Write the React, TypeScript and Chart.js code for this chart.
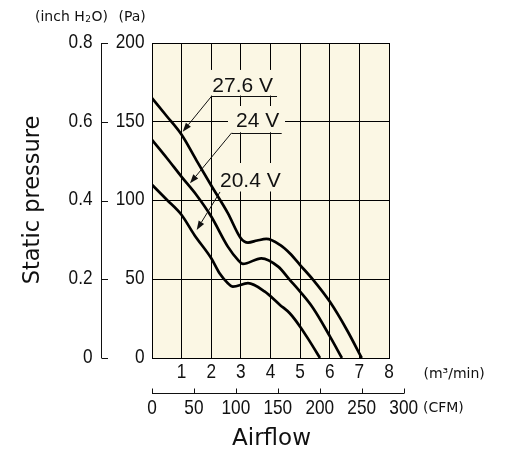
import React, { useEffect, useRef } from "react";
import { Chart, registerables } from "chart.js";

Chart.register(...registerables);

// ---- Data (airflow in m3/min, static pressure in Pa) ----
const flow276 = [0, 0.5, 1, 1.5, 2, 2.56, 3, 3.24, 3.55, 3.86, 4.32, 4.65, 5, 5.44, 6, 6.58, 7.08];
const pres276 = [165, 153.5, 141.7, 125.5, 109.5, 92, 76, 73.3, 74.6, 75.6, 71.8, 66.5, 59, 49.6, 35.8, 17.8, 0];

const flow24 = [0, 0.5, 1, 1.5, 2, 2.56, 2.9, 3.07, 3.69, 4.26, 4.65, 5, 5.44, 6.01, 6.41];
const pres24 = [138.5, 127, 115, 103.5, 89.8, 70.7, 62.3, 59.7, 63.3, 58, 49.6, 42.1, 31.6, 13.6, 0];

const flow204 = [0, 0.5, 1, 1.43, 2, 2.28, 2.56, 2.73, 3.24, 3.81, 4.32, 4.65, 5, 5.33, 5.67];
const pres204 = [110, 100.5, 90.8, 78.1, 63.3, 53.8, 47.5, 45.3, 47.5, 42.1, 33.7, 28.4, 19.9, 10.4, 0];

// ---- Tick labels ----
const flowTicks = [1, 2, 3, 4, 5, 6, 7, 8];
const cfmTicks = [0, 50, 100, 150, 200, 250, 300];
const paTicks = [0, 50, 100, 150, 200];
const inchTickLabels = ["0", "0.2", "0.4", "0.6", "0.8"];
const CFM_PER_M3MIN = 35.315;

// ---- Curve annotations (data coordinates) ----
const noteTexts = ["27.6 V", "24 V", "20.4 V"];
const noteTextX = [2.035, 2.835, 2.295];
const noteTextY = [169.1, 146.5, 108.8];
const noteLineX0 = [2.015, 2.69, null];
const noteLineX1 = [4.22, 4.378, null];
const noteLineY = [166.3, 143.0, null];
const noteArrowFromX = [2.015, 2.69, 2.295];
const noteArrowFromY = [166.3, 143.0, 105.4];
const noteArrowToX = [1.036, 1.283, 1.509];
const noteArrowToY = [143.7, 110.9, 81.3];
const noteBoxX0 = [1.857, 2.565, 2.16];
const noteBoxX1 = [4.355, 4.49, 4.456];
const noteBoxY0 = [182.9, 160, 123.8];
const noteBoxY1 = [166.3, 143.0, 105.4];

const CREAM = "#FBF7E4";
const INK = "#111111";
const TICK_FONT = '21px "Liberation Sans", Arial, sans-serif';
const TICK_SX = 0.82;
const UNIT_FONT = '14px "DejaVu Sans", sans-serif';

function toPoints(xs: number[], ys: number[]) {
  return xs.map((x, i) => ({ x, y: ys[i] }));
}

function drawText(
  ctx: CanvasRenderingContext2D,
  text: string,
  x: number,
  y: number,
  font: string,
  align: CanvasTextAlign,
  baseline: CanvasTextBaseline,
  sx = 1
) {
  ctx.save();
  ctx.translate(x, y);
  ctx.scale(sx, 1);
  ctx.font = font;
  ctx.textAlign = align;
  ctx.textBaseline = baseline;
  ctx.fillStyle = INK;
  ctx.fillText(text, 0, 0);
  ctx.restore();
}

const decorPlugin = {
  id: "decor",
  beforeDraw(chart: any) {
    const { ctx, chartArea } = chart;
    ctx.save();
    ctx.fillStyle = CREAM;
    ctx.fillRect(chartArea.left, chartArea.top, chartArea.right - chartArea.left, chartArea.bottom - chartArea.top);
    ctx.restore();
  },
  beforeDatasetsDraw(chart: any) {
    const { ctx } = chart;
    const xs = chart.scales.x;
    const ys = chart.scales.y;
    ctx.save();
    ctx.fillStyle = CREAM;
    for (let i = 0; i < noteTexts.length; i++) {
      const x0 = xs.getPixelForValue(noteBoxX0[i]);
      const x1 = xs.getPixelForValue(noteBoxX1[i]);
      const y0 = ys.getPixelForValue(noteBoxY0[i]);
      const y1 = ys.getPixelForValue(noteBoxY1[i]);
      ctx.fillRect(x0, y0, x1 - x0, y1 - y0 - 0.5);
    }
    ctx.restore();
  },
  afterDatasetsDraw(chart: any) {
    const { ctx, chartArea } = chart;
    const xs = chart.scales.x;
    const ys = chart.scales.y;

    // annotations
    for (let i = 0; i < noteTexts.length; i++) {
      drawText(ctx, noteTexts[i], xs.getPixelForValue(noteTextX[i]), ys.getPixelForValue(noteTextY[i]),
        '21px "Liberation Sans", Arial, sans-serif', "left", "alphabetic");
      ctx.save();
      ctx.strokeStyle = INK;
      ctx.fillStyle = INK;
      ctx.lineWidth = 1;
      if (noteLineY[i] !== null) {
        const yy = Math.round(ys.getPixelForValue(noteLineY[i] as number)) + 0.5;
        ctx.beginPath();
        ctx.moveTo(xs.getPixelForValue(noteLineX0[i] as number), yy);
        ctx.lineTo(xs.getPixelForValue(noteLineX1[i] as number), yy);
        ctx.stroke();
      }
      const ax0 = xs.getPixelForValue(noteArrowFromX[i]);
      const ay0 = ys.getPixelForValue(noteArrowFromY[i]);
      const ax1 = xs.getPixelForValue(noteArrowToX[i]);
      const ay1 = ys.getPixelForValue(noteArrowToY[i]);
      const ang = Math.atan2(ay1 - ay0, ax1 - ax0);
      const hl = 9, hw = 3.2;
      const bx = ax1 - hl * Math.cos(ang);
      const by = ay1 - hl * Math.sin(ang);
      ctx.beginPath();
      ctx.moveTo(ax0, ay0);
      ctx.lineTo(bx, by);
      ctx.stroke();
      ctx.beginPath();
      ctx.moveTo(ax1, ay1);
      ctx.lineTo(bx + hw * Math.sin(ang), by - hw * Math.cos(ang));
      ctx.lineTo(bx - hw * Math.sin(ang), by + hw * Math.cos(ang));
      ctx.closePath();
      ctx.fill();
      ctx.restore();
    }

    // Pa tick labels
    paTicks.forEach((v) => {
      drawText(ctx, String(v), chartArea.left - 7.5, ys.getPixelForValue(v) - 1, TICK_FONT, "right", "middle", TICK_SX);
    });

    // inch H2O axis
    const axX = chartArea.left - 51.5;
    ctx.save();
    ctx.strokeStyle = INK;
    ctx.lineWidth = 1;
    ctx.beginPath();
    ctx.moveTo(Math.round(axX) + 0.5, ys.getPixelForValue(200));
    ctx.lineTo(Math.round(axX) + 0.5, ys.getPixelForValue(0));
    paTicks.forEach((v) => {
      const yy = Math.round(ys.getPixelForValue(v)) + 0.5;
      ctx.moveTo(Math.round(axX) + 0.5, yy);
      ctx.lineTo(Math.round(axX) + 7, yy);
    });
    ctx.stroke();
    ctx.restore();
    paTicks.forEach((v, i) => {
      drawText(ctx, inchTickLabels[i], axX - 8, ys.getPixelForValue(v) - 1, TICK_FONT, "right", "middle", TICK_SX);
    });

    // m3/min tick labels
    flowTicks.forEach((v) => {
      drawText(ctx, String(v), xs.getPixelForValue(v), chartArea.bottom + 14, TICK_FONT, "center", "middle", TICK_SX);
    });

    // CFM axis
    const cy = Math.round(chartArea.bottom + 35) + 0.5;
    ctx.save();
    ctx.strokeStyle = INK;
    ctx.lineWidth = 1;
    ctx.beginPath();
    const c0 = xs.getPixelForValue(cfmTicks[0] / CFM_PER_M3MIN);
    const c1 = xs.getPixelForValue(cfmTicks[cfmTicks.length - 1] / CFM_PER_M3MIN);
    ctx.moveTo(c0, cy);
    ctx.lineTo(c1 + 0.5, cy);
    cfmTicks.forEach((v) => {
      const xx = Math.round(xs.getPixelForValue(v / CFM_PER_M3MIN)) + 0.5;
      ctx.moveTo(xx, cy);
      ctx.lineTo(xx, cy - 5);
    });
    ctx.stroke();
    ctx.restore();
    cfmTicks.forEach((v) => {
      drawText(ctx, String(v), xs.getPixelForValue(v / CFM_PER_M3MIN), cy + 14.5, TICK_FONT, "center", "middle", TICK_SX);
    });

    // unit labels
    drawText(ctx, "(m³/min)", 423.5, chartArea.bottom + 16, UNIT_FONT, "left", "middle");
    drawText(ctx, "(CFM)", 423, cy + 15, UNIT_FONT, "left", "middle");

    // (inch H2O) (Pa)
    ctx.save();
    ctx.fillStyle = INK;
    ctx.textBaseline = "alphabetic";
    ctx.textAlign = "left";
    ctx.font = UNIT_FONT;
    let px = 35;
    const base = 20.5;
    ctx.fillText("(inch H", px, base);
    px += ctx.measureText("(inch H").width;
    ctx.font = '9px "DejaVu Sans", sans-serif';
    ctx.fillText("2", px + 0.5, base + 1);
    px += ctx.measureText("2").width + 1;
    ctx.font = UNIT_FONT;
    ctx.fillText("O)", px, base);
    ctx.fillText("(Pa)", 118.5, base);
    ctx.restore();

    // axis titles
    drawText(ctx, "Airflow", 271.5, 445, '23px "DejaVu Sans", sans-serif', "center", "alphabetic");
    ctx.save();
    ctx.translate(38.5, 200);
    ctx.rotate(-Math.PI / 2);
    ctx.font = '22.5px "DejaVu Sans", sans-serif';
    ctx.textAlign = "center";
    ctx.textBaseline = "alphabetic";
    ctx.fillStyle = INK;
    ctx.fillText("Static pressure", 0, 0);
    ctx.restore();
  },
};

export default function App() {
  const canvasRef = useRef<HTMLCanvasElement | null>(null);

  useEffect(() => {
    if (!canvasRef.current) return;
    const lineStyle = {
      borderColor: "#000",
      borderWidth: 2.7,
      pointRadius: 0,
      fill: false,
      cubicInterpolationMode: "monotone" as const,
    };
    const chart = new Chart(canvasRef.current, {
      type: "line",
      data: {
        datasets: [
          { label: "27.6 V", data: toPoints(flow276, pres276), ...lineStyle },
          { label: "24 V", data: toPoints(flow24, pres24), ...lineStyle },
          { label: "20.4 V", data: toPoints(flow204, pres204), ...lineStyle },
        ],
      },
      options: {
        responsive: false,
        animation: false,
        events: [],
        layout: { padding: { left: 152, right: 123, top: 43, bottom: 98 } },
        plugins: { legend: { display: false }, tooltip: { enabled: false } },
        scales: {
          x: {
            type: "linear",
            min: 0,
            max: 8,
            ticks: { display: false, stepSize: 1 },
            grid: { color: "#000", lineWidth: 1, drawTicks: false },
            border: { display: true, color: "#000", width: 1 },
          },
          y: {
            type: "linear",
            min: 0,
            max: 200,
            ticks: { display: false, stepSize: 50 },
            grid: { color: "#000", lineWidth: 1, drawTicks: false },
            border: { display: true, color: "#000", width: 1 },
          },
        },
      },
      plugins: [decorPlugin],
    });
    return () => chart.destroy();
  }, []);

  return (
    <div style={{ position: "absolute", left: 0, top: 0, width: 512, height: 456, background: "#fff" }}>
      <canvas ref={canvasRef} width={512} height={456} style={{ width: 512, height: 456 }} />
    </div>
  );
}
